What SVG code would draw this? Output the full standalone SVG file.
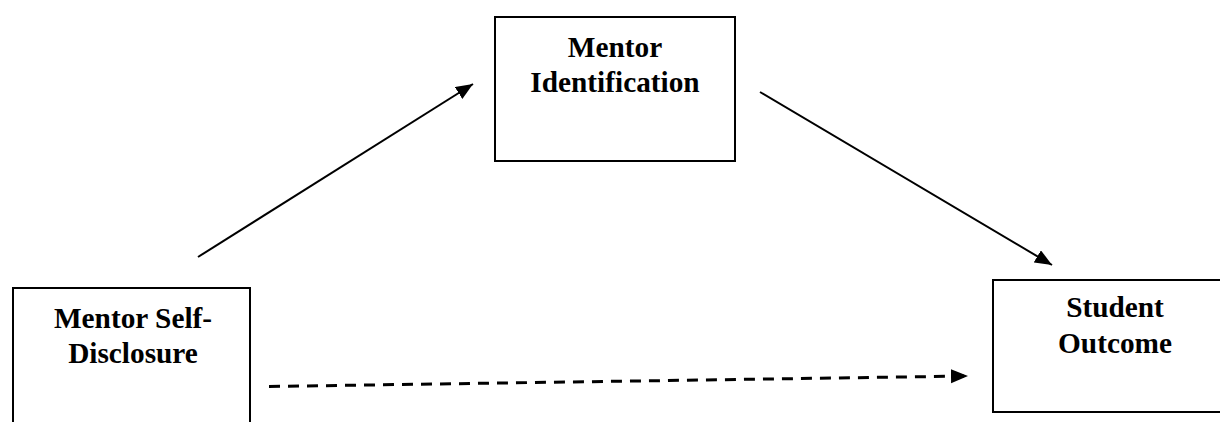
<svg xmlns="http://www.w3.org/2000/svg" width="1220" height="422" viewBox="0 0 1220 422">
<style>
.box{fill:#fff;stroke:#000;stroke-width:2}
.lbl{font-family:"Liberation Serif","Times New Roman",serif;font-weight:bold;font-size:29.3px;fill:#000;text-anchor:middle}
.conn{stroke:#000;stroke-width:2;fill:none}
.dash{stroke:#000;stroke-width:3;fill:none;stroke-dasharray:11 8}
</style>
<defs>
<marker id="ah" markerUnits="userSpaceOnUse" markerWidth="18" markerHeight="15" refX="17" refY="7" orient="auto" viewBox="0 0 18 15">
<path d="M0,0 L17,7 L0,14 z" fill="#000"/>
</marker>
</defs>
<rect width="1220" height="422" fill="#fff"/>
<g id="mentor-self-disclosure">
<rect class="box" x="13" y="288" width="237" height="150"/>
<text class="lbl" x="133" y="328">Mentor Self-</text>
<text class="lbl" x="133" y="363">Disclosure</text>
</g>
<g id="mentor-identification">
<rect class="box" x="495" y="17" width="240" height="144"/>
<text class="lbl" x="615" y="57">Mentor</text>
<text class="lbl" x="615" y="92">Identification</text>
</g>
<g id="student-outcome">
<rect class="box" x="993" y="280" width="240" height="132"/>
<text class="lbl" x="1115" y="317">Student</text>
<text class="lbl" x="1115" y="353">Outcome</text>
</g>
<g id="connectors">
<line class="conn" x1="198" y1="257" x2="473" y2="84" marker-end="url(#ah)"/>
<line class="conn" x1="760" y1="92" x2="1052" y2="265" marker-end="url(#ah)"/>
<line class="dash" x1="269" y1="386.5" x2="968" y2="376" marker-end="url(#ah)"/>
</g>
</svg>
